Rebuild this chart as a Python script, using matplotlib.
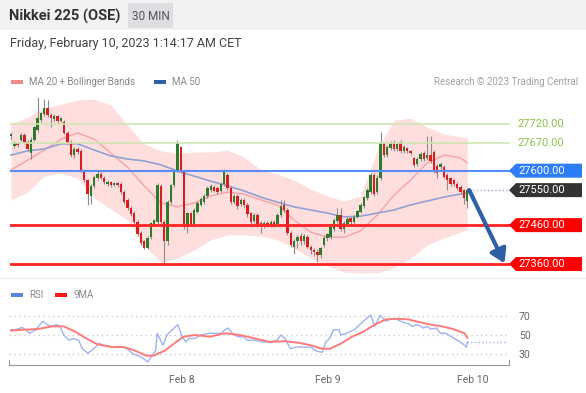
import numpy as np
import matplotlib
matplotlib.use("Agg")
import matplotlib.pyplot as plt
from matplotlib.patches import Polygon, Rectangle

plt.rcParams['font.family'] = ['Roboto', 'DejaVu Sans']

W, H = 586, 393

# --- candles (30 min) ---
opens = [27688, 27664, 27670, 27680, 27692, 27675, 27645, 27680, 27705, 27730,
         27745, 27762, 27743, 27733, 27740, 27728, 27725, 27698, 27674, 27640,
         27655, 27650, 27600, 27575, 27535, 27560, 27580, 27592, 27582, 27565,
         27570, 27563, 27568, 27565, 27545, 27525, 27505, 27492, 27468, 27440,
         27418, 27402, 27430, 27462, 27468, 27560, 27468, 27418, 27520, 27562,
         27600, 27660, 27598, 27455, 27490, 27462, 27495, 27512, 27520, 27535,
         27550, 27558, 27555, 27548, 27565, 27588, 27555, 27520, 27535, 27515,
         27525, 27512, 27490, 27470, 27485, 27465, 27458, 27465, 27460, 27468,
         27462, 27485, 27512, 27500, 27440, 27405, 27420, 27432, 27418, 27430,
         27405, 27395, 27392, 27383, 27410, 27428, 27430, 27450, 27470, 27485,
         27450, 27462, 27478, 27468, 27482, 27495, 27510, 27530, 27545, 27590,
         27545, 27580, 27670, 27640, 27658, 27672, 27655, 27675, 27650, 27658,
         27650, 27632, 27618, 27630, 27645, 27632, 27640, 27648, 27612, 27610,
         27610, 27590, 27580, 27575, 27565, 27558, 27550, 27522]
highs = [27700, 27676, 27675, 27698, 27696, 27680, 27686, 27716, 27789, 27752,
         27785, 27782, 27748, 27746, 27744, 27738, 27730, 27702, 27678, 27660,
         27660, 27655, 27604, 27578, 27565, 27588, 27600, 27596, 27586, 27575,
         27574, 27572, 27572, 27570, 27550, 27530, 27510, 27496, 27472, 27444,
         27422, 27432, 27468, 27476, 27568, 27566, 27472, 27524, 27566, 27604,
         27678, 27664, 27602, 27495, 27494, 27504, 27522, 27532, 27540, 27560,
         27565, 27562, 27560, 27570, 27605, 27594, 27560, 27540, 27540, 27530,
         27530, 27516, 27494, 27490, 27490, 27470, 27470, 27470, 27472, 27472,
         27490, 27525, 27525, 27505, 27445, 27425, 27435, 27440, 27438, 27435,
         27410, 27400, 27398, 27405, 27434, 27440, 27462, 27478, 27505, 27505,
         27470, 27480, 27482, 27486, 27500, 27516, 27536, 27555, 27595, 27595,
         27588, 27700, 27675, 27665, 27676, 27678, 27672, 27680, 27665, 27662,
         27654, 27636, 27635, 27648, 27650, 27690, 27690, 27652, 27616, 27622,
         27614, 27594, 27584, 27578, 27570, 27562, 27554, 27555]
lows = [27680, 27658, 27660, 27676, 27668, 27650, 27630, 27676, 27700, 27724,
        27740, 27738, 27712, 27728, 27722, 27724, 27694, 27668, 27635, 27632,
        27642, 27596, 27570, 27512, 27515, 27555, 27576, 27578, 27565, 27560,
        27558, 27560, 27558, 27540, 27515, 27500, 27484, 27462, 27432, 27410,
        27398, 27398, 27425, 27458, 27464, 27464, 27358, 27410, 27515, 27558,
        27596, 27595, 27450, 27440, 27458, 27456, 27490, 27508, 27515, 27530,
        27546, 27544, 27540, 27544, 27560, 27550, 27515, 27515, 27502, 27510,
        27506, 27482, 27455, 27465, 27456, 27440, 27452, 27455, 27456, 27456,
        27458, 27480, 27495, 27435, 27405, 27385, 27400, 27410, 27412, 27400,
        27385, 27380, 27365, 27375, 27405, 27420, 27425, 27445, 27465, 27445,
        27440, 27458, 27462, 27462, 27478, 27490, 27505, 27525, 27540, 27535,
        27540, 27575, 27635, 27635, 27652, 27650, 27650, 27645, 27645, 27645,
        27640, 27610, 27612, 27625, 27625, 27628, 27620, 27595, 27580, 27605,
        27580, 27550, 27560, 27560, 27550, 27540, 27515, 27505]
closes = [27695, 27670, 27666, 27692, 27672, 27655, 27680, 27712, 27735, 27748,
          27760, 27743, 27735, 27740, 27728, 27735, 27698, 27672, 27640, 27655,
          27648, 27600, 27575, 27540, 27560, 27583, 27592, 27582, 27570, 27570,
          27563, 27568, 27563, 27545, 27520, 27505, 27488, 27468, 27438, 27415,
          27402, 27428, 27465, 27472, 27563, 27468, 27418, 27520, 27562, 27600,
          27672, 27600, 27455, 27490, 27462, 27500, 27518, 27528, 27535, 27555,
          27560, 27548, 27545, 27565, 27597, 27555, 27520, 27535, 27508, 27525,
          27512, 27488, 27468, 27485, 27462, 27455, 27465, 27460, 27468, 27462,
          27485, 27510, 27500, 27440, 27410, 27420, 27430, 27420, 27432, 27405,
          27395, 27390, 27383, 27400, 27428, 27436, 27455, 27472, 27485, 27450,
          27465, 27475, 27468, 27482, 27497, 27512, 27532, 27550, 27590, 27540,
          27582, 27670, 27640, 27660, 27670, 27655, 27668, 27650, 27660, 27650,
          27645, 27615, 27630, 27642, 27630, 27640, 27625, 27600, 27595, 27618,
          27585, 27575, 27565, 27565, 27555, 27545, 27530, 27550]

# --- indicators, read every 5 candles ---
band_idx = [0, 5, 10, 15, 20, 25, 30, 35, 40, 45, 50, 55, 60, 65, 70, 75, 80,
            85, 90, 95, 100, 105, 110, 115, 120, 125, 130, 135, 137]
ma20 = [27602, 27627, 27653, 27681, 27697, 27681, 27645, 27609, 27561, 27517,
        27507, 27517, 27535, 27545, 27540, 27525, 27512, 27473, 27442, 27429,
        27429, 27445, 27486, 27537, 27576, 27620, 27640, 27633, 27620]
bb_upper = [27720, 27738, 27761, 27771, 27782, 27784, 27769, 27717, 27669, 27651,
            27645, 27648, 27648, 27653, 27635, 27602, 27591, 27576, 27553, 27535,
            27522, 27535, 27653, 27730, 27735, 27712, 27694, 27687, 27687]
bb_lower = [27525, 27545, 27586, 27594, 27581, 27530, 27501, 27473, 27409, 27363,
            27375, 27396, 27422, 27435, 27435, 27432, 27422, 27401, 27375, 27355,
            27339, 27337, 27337, 27350, 27375, 27409, 27427, 27442, 27447]
ma50 = [27640, 27651, 27656, 27669, 27669, 27653, 27638, 27630, 27625, 27615,
        27599, 27586, 27573, 27561, 27548, 27532, 27519, 27507, 27499, 27491,
        27481, 27483, 27491, 27499, 27512, 27522, 27532, 27540, 27543]

# --- RSI panel ---
rsi_pos = [0, 1.2, 3.4, 5.7, 7.4, 9.6, 10.8, 12.4, 13.6, 14.7,
           15.8, 17.5, 18.6, 20.3, 21.4, 23.1, 24.8, 26.5, 28.2, 30.4,
           32.7, 34.9, 36.6, 38.3, 40, 41.1, 42.3, 43.4, 43.9, 45.6,
           46.8, 48.4, 50.1, 51.2, 52.4, 53.5, 55.2, 56.9, 59.7, 61.4,
           63.1, 64.2, 65.3, 66.4, 68.1, 69.8, 70.9, 73.2, 75.4, 77.7,
           79.9, 81, 82.2, 83.9, 85.6, 87.8, 90.1, 91.7, 93.4, 94.5,
           95.7, 96.8, 98.5, 99, 100.7, 103, 104.7, 106.4, 108, 109.2,
           110.8, 112.5, 114.2, 115.9, 117.6, 119.3, 120.4, 122.1, 123.8, 124.9,
           126, 127.7, 128.9, 130.5, 132.2, 133.9, 135.6, 136.7, 137]
rsi_vals = [55.5, 55.5, 58, 51.8, 55.5, 64.5, 61, 59, 61, 59,
            50, 44.5, 46.4, 44.5, 35.5, 30.7, 35.5, 40.9, 39.1, 37.3,
            38, 35.5, 30, 28.2, 24.5, 21.6, 28.2, 33.6, 51.8, 39.1,
            50, 55.5, 60.9, 50, 42.7, 46.4, 46.4, 50, 51.8, 51.8,
            51.8, 55.5, 57.3, 51.8, 48.2, 48.2, 44.5, 44.5, 42.7, 42.7,
            44.5, 50, 46.4, 35.5, 37.3, 37.3, 37.3, 32.9, 31.8, 42.7,
            46.4, 55.5, 55.5, 50, 51.8, 55.5, 60.9, 66.4, 71.1, 59.1,
            70.7, 64.5, 67.1, 66.4, 63.5, 62, 59.1, 60.9, 57.3, 59.1,
            56.2, 57.3, 51.8, 51.8, 48.2, 44.5, 40.9, 37.3, 42.7]
ma9_pos = [0, 3.4, 7.9, 12.4, 15.8, 19.2, 22.6, 25.9, 30.4, 33.8,
           37.2, 40.6, 42.8, 46.2, 49.6, 51.8, 55.2, 59.7, 64.2, 68.7,
           73.2, 77.7, 82.2, 86.7, 90.1, 93.4, 95.7, 99, 102.4, 105.8,
           109.2, 112.5, 115.9, 119.3, 122.7, 126, 129.4, 132.8, 136.1, 137]
ma9_vals = [54.7, 55.5, 56.2, 59.1, 59.1, 53.6, 46.4, 40.2, 37.3, 37.3,
            33.6, 28.2, 28.2, 33.6, 42.7, 48.2, 50, 48.2, 51.8, 50,
            46.4, 42.7, 43.5, 41.6, 39.1, 35.5, 35.5, 40.9, 48.2, 53.6,
            60.9, 66.4, 67.1, 66.4, 63.5, 60.9, 59.1, 56.2, 51.8, 47]

# --- key levels ---
resistances = [27720, 27670]
pivot = 27600
last_price = 27550
supports = [27460, 27360]
target = 27360

day_ticks = [51.4, 95.2, 138.7]
day_labels = ['Feb 8', 'Feb 9', 'Feb 10']


def px_rect(l, t, r, b):
    return [l / W, 1 - b / H, (r - l) / W, (b - t) / H]


def add_box(fig, l, t, r, b, color):
    fig.patches.append(Rectangle((l / W, 1 - b / H), (r - l) / W, (b - t) / H,
                                 transform=fig.transFigure, color=color, lw=0))


fig = plt.figure(figsize=(W / 100, H / 100), dpi=100)
fig.patch.set_facecolor('white')

# header
add_box(fig, 0, 0, W, 30, '#f2f2f2')
add_box(fig, 128, 3, 173, 28, '#dcdee2')
fig.text(9 / W, 1 - 16 / H, 'Nikkei 225 (OSE)', fontsize=10.5, fontweight='bold',
         color='#333333', va='center')
fig.text(150.5 / W, 1 - 16 / H, '30 MIN', fontsize=8.5, color='#555555',
         va='center', ha='center')
fig.text(10 / W, 1 - 44 / H, 'Friday, February 10, 2023 1:14:17 AM CET',
         fontsize=9, color='#444444', va='center')

# legends
add_box(fig, 11, 80, 23, 84, '#f28a8a')
fig.text(29 / W, 1 - 82 / H, 'MA 20 + Bollinger Bands', fontsize=7, color='#888888', va='center')
add_box(fig, 154, 80, 166, 84, '#2f5da6')
fig.text(172 / W, 1 - 82 / H, 'MA 50', fontsize=7, color='#888888', va='center')
fig.text(578 / W, 1 - 82 / H, 'Research \u00a9 2023 Trading Central', fontsize=7,
         color='#a0a0a0', va='center', ha='right')
add_box(fig, 11, 293, 23, 297, '#5b80e6')
fig.text(29 / W, 1 - 295 / H, 'RSI', fontsize=7, color='#888888', va='center')
add_box(fig, 55, 293, 67, 297, '#ff1a1a')
fig.text(73 / W, 1 - 295 / H, '9MA', fontsize=7, color='#888888', va='center')

# separator between panels
fig.add_artist(plt.Line2D([0, 1], [1 - 278 / H, 1 - 278 / H], transform=fig.transFigure,
                          color='#eeeeee', lw=1))

# --- main price panel ---
ax = fig.add_axes(px_rect(10, 95, 510, 277))
ax.set_axis_off()
ax.set_xlim(-0.3, 149.85)
ax.set_ylim(27326.6, 27794.6)

ax.fill_between(band_idx, bb_lower, bb_upper, color='#ffdede', lw=0, zorder=1)
ax.plot(band_idx, ma20, color='#f7a3a3', lw=1, zorder=2)
ax.plot(band_idx, ma50, color='#8fa2d2', lw=1.2, zorder=2)

idx = np.arange(len(closes))
o = np.array(opens)
c = np.array(closes)
colors = np.where(c >= o, '#2c7c2c', '#d81e1e')
ax.vlines(idx, lows, highs, color='#8c8c8c', lw=0.8, zorder=3)
ax.bar(idx, np.abs(c - o), bottom=np.minimum(o, c), width=0.72, color=colors,
       lw=0, zorder=4)

for lvl in resistances:
    ax.axhline(lvl, color='#cfe5b2', lw=1.2, zorder=5)
ax.axhline(pivot, color='#5a8cf7', lw=1.5, zorder=5)
for lvl in supports:
    ax.axhline(lvl, color='#ff2323', lw=2, zorder=5)
ax.hlines(last_price, idx[-1] + 0.5, 149.85, color='#9eb0d6', lw=1, ls=':', zorder=5)

ax.annotate('', xy=(148.2, target + 2), xytext=(idx[-1] + 0.6, last_price),
            arrowprops=dict(arrowstyle='-|>,head_length=0.8,head_width=0.5',
                            lw=3, color='#2f5fa7', shrinkA=0, shrinkB=0),
            zorder=6, annotation_clip=False)

# right hand labels
fig.canvas.draw()


def level_y(lvl):
    return ax.transData.transform((0, lvl))[1] / H


for lvl in resistances:
    fig.text(517 / W, level_y(lvl), f'{lvl:.2f}', fontsize=8, color='#8bc34a', va='center')

badges = [(pivot, '#2f7cf7'), (last_price, '#333333'), (supports[0], '#ff0000'),
          (supports[1], '#ff0000')]
for lvl, col in badges:
    yc = level_y(lvl) * H
    pts = [(509, yc), (516, yc + 7), (582, yc + 7), (582, yc - 7), (516, yc - 7)]
    fig.patches.append(Polygon([(x / W, y / H) for x, y in pts], closed=True,
                               transform=fig.transFigure, color=col, lw=0))
    fig.text(518 / W, yc / H, f'{lvl:.2f}', fontsize=8, color='white', va='center')

# --- RSI panel ---
ax2 = fig.add_axes(px_rect(9, 305, 509, 365))
ax2.set_xlim(-0.6, 149.5)
ax2.set_ylim(18.4, 81.6)
for lvl in [30, 50, 70]:
    ax2.axhline(lvl, color='#cccccc', lw=1, ls=(0, (1, 2.5)), xmax=0.995)
ax2.plot(rsi_pos, rsi_vals, color='#9db3f2', lw=1)
ax2.plot(ma9_pos, ma9_vals, color='#ff7b7b', lw=1.4)
ax2.hlines(rsi_vals[-1], rsi_pos[-1], 148.5, color='#9db3f2', lw=1, ls=':')

for side in ['top']:
    ax2.spines[side].set_visible(False)
for side in ['left', 'right']:
    ax2.spines[side].set_bounds(18.4, 24)
    ax2.spines[side].set_color('#999999')
ax2.spines['bottom'].set_color('#999999')
ax2.yaxis.tick_right()
ax2.set_yticks([30, 50, 70])
ax2.set_xticks(day_ticks)
ax2.set_xticklabels(day_labels)
ax2.tick_params(axis='y', length=0, pad=7, labelsize=7.5, labelcolor='#666666')
ax2.tick_params(axis='x', length=0, pad=7, labelsize=7.5, labelcolor='#666666')
ax2.patch.set_alpha(0)

fig.savefig('out.png', dpi=100)
